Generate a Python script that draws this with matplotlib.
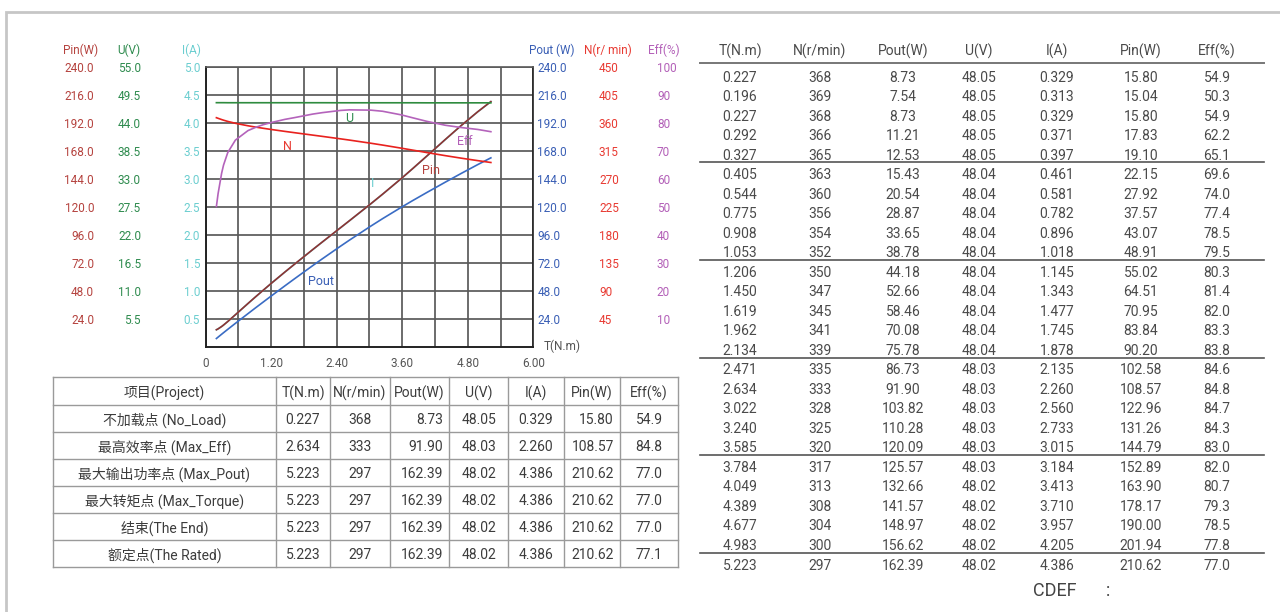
import numpy as np
import matplotlib
matplotlib.use('Agg')
import matplotlib.pyplot as plt
from matplotlib.ticker import FuncFormatter, FixedLocator

plt.rcParams['font.family'] = ['Roboto', 'Noto Sans CJK SC', 'DejaVu Sans']

# ---------------- data ----------------
T = [0.227, 0.196, 0.227, 0.292, 0.327, 0.405, 0.544, 0.775, 0.908, 1.053,
     1.206, 1.450, 1.619, 1.962, 2.134, 2.471, 2.634, 3.022, 3.240, 3.585,
     3.784, 4.049, 4.389, 4.677, 4.983, 5.223]
N = [368, 369, 368, 366, 365, 363, 360, 356, 354, 352,
     350, 347, 345, 341, 339, 335, 333, 328, 325, 320,
     317, 313, 308, 304, 300, 297]
Pout = [8.73, 7.54, 8.73, 11.21, 12.53, 15.43, 20.54, 28.87, 33.65, 38.78,
        44.18, 52.66, 58.46, 70.08, 75.78, 86.73, 91.90, 103.82, 110.28, 120.09,
        125.57, 132.66, 141.57, 148.97, 156.62, 162.39]
U = [48.05, 48.05, 48.05, 48.05, 48.05, 48.04, 48.04, 48.04, 48.04, 48.04,
     48.04, 48.04, 48.04, 48.04, 48.04, 48.03, 48.03, 48.03, 48.03, 48.03,
     48.03, 48.02, 48.02, 48.02, 48.02, 48.02]
I = [0.329, 0.313, 0.329, 0.371, 0.397, 0.461, 0.581, 0.782, 0.896, 1.018,
     1.145, 1.343, 1.477, 1.745, 1.878, 2.135, 2.260, 2.560, 2.733, 3.015,
     3.184, 3.413, 3.710, 3.957, 4.205, 4.386]
Pin = [15.80, 15.04, 15.80, 17.83, 19.10, 22.15, 27.92, 37.57, 43.07, 48.91,
       55.02, 64.51, 70.95, 83.84, 90.20, 102.58, 108.57, 122.96, 131.26, 144.79,
       152.89, 163.90, 178.17, 190.00, 201.94, 210.62]
Eff = [54.9, 50.3, 54.9, 62.2, 65.1, 69.6, 74.0, 77.4, 78.5, 79.5,
       80.3, 81.4, 82.0, 83.3, 83.8, 84.6, 84.8, 84.7, 84.3, 83.0,
       82.0, 80.7, 79.3, 78.5, 77.8, 77.0]

# axis maxima
T_max = 6.0
Pin_max, U_max, I_max = 240.0, 55.0, 5.0
Pout_max, N_max, Eff_max = 240.0, 450.0, 100.0

# summary table
sum_header = ["项目(Project)", "T(N.m)", "N(r/min)", "Pout(W)", "U(V)", "I(A)", "Pin(W)", "Eff(%)"]
sum_names = ["不加载点 (No_Load)", "最高效率点 (Max_Eff)", "最大输出功率点 (Max_Pout)",
             "最大转矩点 (Max_Torque)", "结束(The End)", "额定点(The Rated)"]
sum_T = ["0.227", "2.634", "5.223", "5.223", "5.223", "5.223"]
sum_N = ["368", "333", "297", "297", "297", "297"]
sum_Pout = ["8.73", "91.90", "162.39", "162.39", "162.39", "162.39"]
sum_U = ["48.05", "48.03", "48.02", "48.02", "48.02", "48.02"]
sum_I = ["0.329", "2.260", "4.386", "4.386", "4.386", "4.386"]
sum_Pin = ["15.80", "108.57", "210.62", "210.62", "210.62", "210.62"]
sum_Eff = ["54.9", "84.8", "77.0", "77.0", "77.0", "77.1"]

data_header = ["T(N.m)", "N(r/min)", "Pout(W)", "U(V)", "I(A)", "Pin(W)", "Eff(%)"]

# ---------------- colours ----------------
c_pin_t, c_pin_l = '#b5433f', '#8e3232'
c_u_t, c_u_l = '#2e8b4e', '#2f8b3f'
c_i = '#6cced0'
c_pout_t, c_pout_l = '#3a5fb5', '#3a6cc4'
c_n_t, c_n_l = '#e83a32', '#e8221e'
c_eff_t, c_eff_l = '#b360b8', '#b463bb'
grid_c = '#5a5a5a'
txt_c = '#3c3c3c'

W, H = 1280, 612
fig = plt.figure(figsize=(W / 100, H / 100), dpi=100)
fig.patch.set_facecolor('white')

L, R, TOP, BOT = 205.7, 533.3, 67.3, 347.3
ax = fig.add_axes([L / W, 1 - BOT / H, (R - L) / W, (BOT - TOP) / H])
ax.set_xlim(0, T_max)
ax.set_ylim(0, I_max)
ax.xaxis.set_major_locator(FixedLocator(np.arange(0, 6.01, 1.2)))
ax.xaxis.set_minor_locator(FixedLocator(np.arange(0.6, 6.0, 1.2)))
ax.xaxis.set_major_formatter(FuncFormatter(lambda v, p: '0' if abs(v) < 1e-9 else '%.2f' % v))
ax.set_yticks(np.linspace(I_max / 10, I_max, 10))
ax.yaxis.set_major_formatter(FuncFormatter(lambda v, p: '%.1f' % v))
ax.grid(True, which='both', axis='x', color=grid_c, lw=1.25)
ax.grid(True, which='major', axis='y', color=grid_c, lw=1.25)
ax.tick_params(axis='x', which='both', length=0, pad=7.0, colors='#555555', labelsize=8.5)
ax.tick_params(axis='y', length=0, pad=4.1, colors=c_i, labelsize=8.5)
ax.spines['left'].set_color('#222222'); ax.spines['left'].set_linewidth(1.4)
ax.spines['bottom'].set_color('#222222'); ax.spines['bottom'].set_linewidth(1.4)
ax.spines['right'].set_color('#222222'); ax.spines['right'].set_linewidth(1.2)
ax.spines['top'].set_color(grid_c); ax.spines['top'].set_linewidth(1.2)
ax.set_axisbelow(True)

order = np.argsort(np.array(T), kind='stable')
Ts = np.array(T)[order]


def twin(ymax, fmt, color, side, offset_pt, pad):
    a = ax.twinx()
    a.set_xlim(0, T_max)
    a.set_ylim(0, ymax)
    a.set_yticks(np.linspace(ymax / 10, ymax, 10))
    a.yaxis.set_major_formatter(FuncFormatter(lambda v, p: fmt % v))
    if side == 'left':
        a.yaxis.tick_left()
        a.spines['left'].set_position(('outward', offset_pt))
    else:
        a.spines['right'].set_position(('outward', offset_pt))
    for s in a.spines.values():
        s.set_visible(False)
    a.tick_params(axis='y', length=0, pad=pad, colors=color, labelsize=8.5)
    a.patch.set_visible(False)
    return a


ax.plot(Ts, np.array(I)[order], color=c_i, lw=1.2)
a_pin = twin(Pin_max, '%.1f', c_pin_t, 'left', 80.4, 0)
a_u = twin(U_max, '%.1f', c_u_t, 'left', 46.6, 0)
a_pout = twin(Pout_max, '%.1f', c_pout_t, 'right', 0, 2.9)
a_n = twin(N_max, '%d', c_n_t, 'right', 47.3, 0)
a_eff = twin(Eff_max, '%d', c_eff_t, 'right', 89.0, 0)

a_u.plot(Ts, np.array(U)[order], color=c_u_l, lw=1.2)
a_eff.plot(Ts, np.array(Eff)[order], color=c_eff_l, lw=1.2)
a_n.plot(Ts, np.array(N)[order], color=c_n_l, lw=1.2)
a_pout.plot(Ts, np.array(Pout)[order], color=c_pout_l, lw=1.2)
a_pin.plot(Ts, np.array(Pin)[order], color=c_pin_l, lw=1.2)

# curve labels
lab_kw = dict(fontsize=9, ha='center', va='center')
ax.text(2.62, 4.09, 'U', color=c_u_t, **lab_kw)
ax.text(1.49, 3.59, 'N', color=c_n_t, **lab_kw)
ax.text(4.75, 3.68, 'Eff', color=c_eff_t, **lab_kw)
ax.text(4.13, 3.15, 'Pin', color=c_pin_t, **lab_kw)
ax.text(3.05, 2.93, 'I', color=c_i, **lab_kw)
ax.text(2.11, 1.18, 'Pout', color=c_pout_t, **lab_kw)

# ---------------- overlay (pixel coordinates) ----------------
ov = fig.add_axes([0, 0, 1, 1])
ov.set_xlim(0, W)
ov.set_ylim(H, 0)
ov.axis('off')
ov.patch.set_visible(False)

ov.plot([6, 6, W], [H, 12, 12], color='#c6c6c6', lw=2, solid_joinstyle='miter')

# axis headers
hk = dict(fontsize=8.5, ha='center', va='center')
ov.text(80.5, 50, 'Pin(W)', color=c_pin_t, **hk)
ov.text(129, 50, 'U(V)', color=c_u_t, **hk)
ov.text(191, 50, 'I(A)', color=c_i, **hk)
ov.text(552, 50, 'Pout (W)', color=c_pout_t, **hk)
ov.text(608, 50, 'N(r/ min)', color=c_n_t, **hk)
ov.text(664, 50, 'Eff(%)', color=c_eff_t, **hk)
ov.text(562, 346, 'T(N.m)', color='#555555', fontsize=8.5, ha='center', va='center')

# summary table
cols = [53, 276, 330, 390, 449, 508, 564, 620, 678]
rows = [377, 405, 432, 459, 486, 513, 540, 567]
lc = '#9a9a9a'
for x in cols:
    ov.plot([x, x], [rows[0], rows[-1]], color=lc, lw=1)
for y in rows:
    ov.plot([cols[0], cols[-1]], [y, y], color=lc, lw=1)
tk = dict(fontsize=10, color=txt_c, va='center')
for j, h in enumerate(sum_header):
    ov.text((cols[j] + cols[j + 1]) / 2, (rows[0] + rows[1]) / 2 + 2, h, ha='center', **tk)
sum_cols = [sum_names, sum_T, sum_N, sum_Pout, sum_U, sum_I, sum_Pin, sum_Eff]
right_al = {3, 6}
for j, col in enumerate(sum_cols):
    for i, s in enumerate(col):
        yc = (rows[i + 1] + rows[i + 2]) / 2 + 1.5
        if j in right_al:
            ov.text(cols[j + 1] - 6, yc, s, ha='right', **tk)
        else:
            ov.text((cols[j] + cols[j + 1]) / 2, yc, s, ha='center', **tk)

# data table on the right
dcx = [740, 820, 903, 979, 1057, 1141, 1217]
dk = dict(fontsize=10, color='#4a4a4a', va='center', ha='center')
for x, h in zip(dcx, data_header):
    ov.text(x, 51, h, **dk)
ov.plot([700, 1264], [63, 63], color='#777777', lw=1.4)
y0, dy = 77.5, 19.52
fmts = [('%.3f', T), ('%d', N), ('%.2f', Pout), ('%.2f', U), ('%.3f', I), ('%.2f', Pin), ('%.1f', Eff)]
for j, (f, vals) in enumerate(fmts):
    for i, v in enumerate(vals):
        ov.text(dcx[j], y0 + i * dy, f % v, **dk)
for i in range(4, len(T), 5):
    yl = y0 + i * dy + 6.8
    ov.plot([700, 1264], [yl, yl], color='#555555', lw=1.2)

ov.text(1055, 591, 'CDEF', fontsize=13, color='#444444', ha='center', va='center')
ov.text(1108, 591, ':', fontsize=13, color='#444444', ha='center', va='center')

fig.savefig('out.png', dpi=100)
